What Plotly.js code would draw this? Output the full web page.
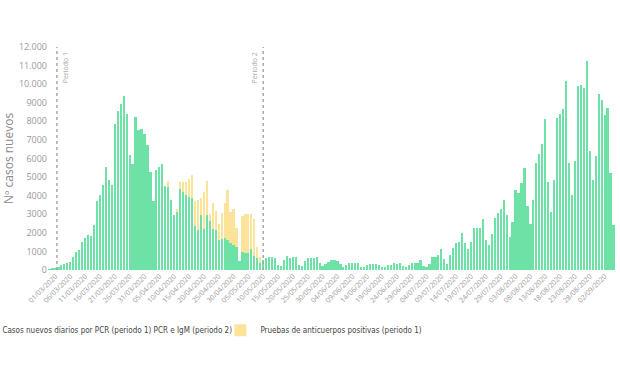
<!DOCTYPE html>
<html>
<head>
<meta charset="utf-8">
<script src="https://cdn.plot.ly/plotly-3.0.1.min.js"></script>
<style>html,body{margin:0;padding:0;background:#fff;}#chart{width:620px;height:368px;}</style>
</head>
<body>
<div id="chart"></div>
<script>
// first day of the PCR series, one bar per day
const pcrStart = '2020-02-28';
const pcrCases = [
  50, 90, 120, 180, 250, 300, 360, 410, 710, 980,
  1070, 1520, 1730, 1910, 1840, 2410, 3700, 4050, 4550, 5540,
  4820, 4550, 7860, 8570, 8930, 9380, 8370, 6200, 5700, 8220,
  7550, 7600, 7300, 6700, 5300, 3700, 5400, 5550, 5700, 4500,
  4470, 3750, 2950, 3100, 4350, 4200, 4050, 3950, 3850, 2350,
  2150, 2950, 2200, 2950, 2650, 2200, 2150, 1600, 1650, 1700,
  1600, 1450, 1350, 1250, 500, 950, 900, 900, 1150, 750,
  650, 380, 530, 620, 680, 690, 640, 280, 200, 560,
  730, 660, 700, 715, 280, 240, 480, 640, 620, 650,
  680, 360, 200, 300, 440, 520, 560, 480, 330, 140,
  260, 370, 390, 390, 380, 150, 140, 290, 340, 340,
  330, 280, 170, 140, 290, 260, 390, 350, 390, 215,
  140, 270, 390, 390, 390, 535, 230, 140, 300, 680,
  680, 800, 1110, 570, 320, 800, 1210, 1480, 1520, 2000,
  1430, 1110, 1520, 2270, 2270, 2270, 2770, 1640, 1340, 1960,
  2820, 3070, 3300, 3750, 2950, 1790, 2590, 4290, 4160, 4700,
  5480, 3450, 2500, 3750, 5770, 6250, 6770, 8130, 4730, 3130,
  4860, 8160, 8390, 8660, 10180, 5770, 4020, 5890, 9880, 9950,
  9820, 11270, 6390, 4820, 6130, 9450, 9140, 8340, 8730, 5200,
  2410
];
// antibody-positive tests (period 1), stacked on top of PCR
const antiStart = '2020-04-08';
const antiCases = [
  300, 0, 0, 200, 380, 530, 680, 950, 1250, 1350,
  1600, 900, 2000, 1850, 350, 1400, 1050, 900, 1400, 1900,
  2700, 1650, 1950, 1000, 0, 1950, 2100, 2100, 1850, 2000,
  600, 330
];
const seriesNames = [
  'Casos nuevos diarios por PCR (periodo 1) PCR e IgM (periodo 2)',
  'Pruebas de anticuerpos positivas (periodo 1)'
];
const yTickVals = [0, 1000, 2000, 3000, 4000, 5000, 6000, 7000, 8000, 9000, 10000, 11000, 12000];
const yTickText = ['0', '1000', '2000', '3000', '4000', '5000', '6000', '7000', '8000', '9000', '10.000', '11.000', '12.000'];
const periodDates = ['2020-03-01 12:00', '2020-05-10'];
const periodLabels = ['Periodo 1', 'Periodo 2'];

const DAY = 86400000;
const GREEN = '#6ee2a6';
const YELLOW = '#fbe49a';

const traces = [
  {type: 'bar', name: seriesNames[0], x0: pcrStart, dx: DAY, y: pcrCases,
   marker: {color: GREEN}, hoverinfo: 'x+y'},
  {type: 'bar', name: seriesNames[1], x0: antiStart, dx: DAY, y: antiCases,
   marker: {color: YELLOW}, hoverinfo: 'x+y'}
];

const shapes = periodDates.map(d => ({
  type: 'line', xref: 'x', yref: 'paper', x0: d, x1: d, y0: 0, y1: 1,
  line: {color: '#a8a8a8', width: 1.5, dash: 'dot'}
}));

const annotations = [
  {xref: 'x', yref: 'paper', x: periodDates[0], y: 0.985, xanchor: 'left', yanchor: 'top',
   xshift: 2, text: periodLabels[0], textangle: -90, showarrow: false,
   font: {family: 'Open Sans, sans-serif', size: 7, color: '#aaaaaa'}},
  {xref: 'x', yref: 'paper', x: periodDates[1], y: 0.985, xanchor: 'right', yanchor: 'top',
   xshift: -2, text: periodLabels[1], textangle: -90, showarrow: false,
   font: {family: 'Open Sans, sans-serif', size: 7, color: '#aaaaaa'}}
];

const layout = {
  width: 620, height: 368,
  margin: {l: 47.5, r: 4.5, t: 46.7, b: 98, autoexpand: false},
  paper_bgcolor: '#ffffff', plot_bgcolor: '#ffffff',
  barmode: 'stack', bargap: 0.25,
  showlegend: true,
  legend: {orientation: 'h', x: -0.151, xanchor: 'left', y: -0.27, yanchor: 'middle',
           entrywidth: 213, entrywidthmode: 'pixels',
           font: {family: 'Liberation Sans Narrow, DejaVu Sans Condensed, sans-serif', size: 8, color: '#444444'},
           traceorder: 'normal', itemclick: false},
  xaxis: {type: 'date', range: ['2020-02-27 12:00', '2020-09-05 12:00'],
          tick0: '2020-03-01', dtick: 5 * DAY, tickformat: '%d/%m/%Y', tickangle: -45,
          tickfont: {family: 'Open Sans, sans-serif', size: 7, color: '#999999'},
          showgrid: false, zeroline: false, showline: false, ticks: '', automargin: false},
  yaxis: {range: [0, 12000], tickvals: yTickVals, ticktext: yTickText,
          tickfont: {family: 'Open Sans, sans-serif', size: 9, color: '#999999'},
          showgrid: false, zeroline: false, showline: false, ticks: '', automargin: false,
          title: {text: 'Nº casos nuevos', standoff: 12,
                  font: {family: 'Open Sans, sans-serif', size: 12, color: '#8a8a8a'}}},
  shapes: shapes,
  annotations: annotations
};

Plotly.newPlot('chart', traces, layout, {displayModeBar: false, staticPlot: true});
</script>
</body>
</html>
